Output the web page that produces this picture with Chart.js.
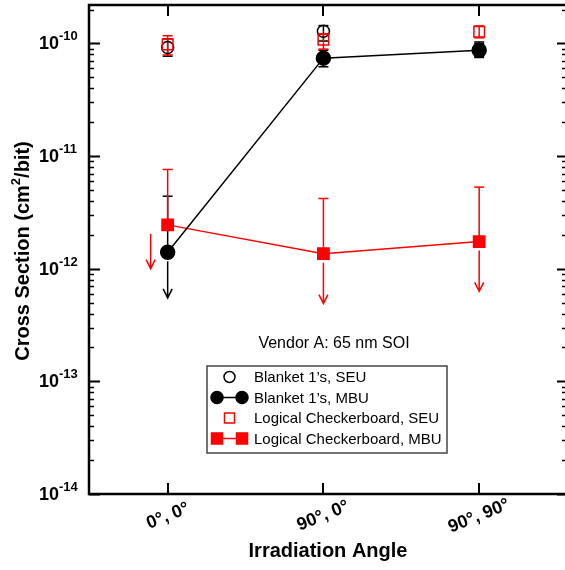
<!DOCTYPE html>
<html>
<head>
<meta charset="utf-8">
<script src="https://cdn.jsdelivr.net/npm/chart.js@4/dist/chart.umd.min.js"></script>
<style>
  html, body { margin: 0; padding: 0; background: #fff; }
</style>
</head>
<body>
<canvas id="xsChart" width="565" height="570"></canvas>
<script>
// categories and tick labels
const angles = ["0\u00b0, 0\u00b0", "90\u00b0, 0\u00b0", "90\u00b0, 90\u00b0"];
const decadeExps = [-10, -11, -12, -13, -14];

// Blanket 1's
const blanketSeu   = [9.2e-11, 1.28e-10, 8.8e-11];
const blanketSeuHi = [1.1e-10, 1.44e-10, 1.0e-10];
const blanketSeuLo = [7.7e-11, 1.05e-10, 7.7e-11];
const blanketMbu   = [1.4e-12, 7.4e-11, 8.7e-11];
const blanketMbuHi = [4.4e-12, 8.7e-11, 1.03e-10];
const blanketMbuLo = [5.5e-13, 6.2e-11, 7.5e-11];
const blanketMbuLimit = [true, false, false];

// Logical checkerboard
const checkerSeu   = [9.8e-11, 1.08e-10, 1.27e-10];
const checkerSeuHi = [1.17e-10, 1.22e-10, 1.43e-10];
const checkerSeuLo = [7.9e-11, 8.9e-11, 1.12e-10];
const checkerMbu   = [2.45e-12, 1.36e-12, 1.74e-12];
const checkerMbuHi = [7.6e-12, 4.2e-12, 5.3e-12];
const checkerMbuLo = [1.0e-12, 4.9e-13, 6.3e-13];
const checkerMbuLimit = [true, true, true];

const RED = "#ff0000";
const FONT = "'Liberation Sans', Arial, sans-serif";

const pts = arr => arr.map((v, i) => ({ x: i, y: v }));

const bars = [
  { mid: blanketSeu, hi: blanketSeuHi, lo: blanketSeuLo, limit: [false, false, false], color: "#000", dx: [0, 0, 0] },
  { mid: blanketMbu, hi: blanketMbuHi, lo: blanketMbuLo, limit: blanketMbuLimit, color: "#000", dx: [0, 0, 0] },
  { mid: checkerSeu, hi: checkerSeuHi, lo: checkerSeuLo, limit: [false, false, false], color: RED, dx: [0, 0, 0] },
  { mid: checkerMbu, hi: checkerMbuHi, lo: checkerMbuLo, limit: checkerMbuLimit, color: RED, dx: [-17, 0, 0] },
];

function cap(ctx, x, y) {
  ctx.beginPath(); ctx.moveTo(x - 5, y); ctx.lineTo(x + 5, y); ctx.stroke();
}

function arrow(ctx, x, y0, y1) {
  ctx.beginPath();
  ctx.moveTo(x, y0); ctx.lineTo(x, y1);
  ctx.moveTo(x - 4.5, y1 - 9); ctx.lineTo(x, y1); ctx.lineTo(x + 4.5, y1 - 9);
  ctx.stroke();
}

const decor = {
  id: "decor",
  beforeDatasetsDraw(chart) {
    const ctx = chart.ctx, xs = chart.scales.x, ys = chart.scales.y;
    ctx.save();
    ctx.lineWidth = 1.5;
    bars.forEach(b => {
      ctx.strokeStyle = b.color;
      b.mid.forEach((v, i) => {
        const px = xs.getPixelForValue(i);
        const pm = ys.getPixelForValue(v);
        const ph = ys.getPixelForValue(b.hi[i]);
        const pl = ys.getPixelForValue(b.lo[i]);
        ctx.beginPath(); ctx.moveTo(px, pm); ctx.lineTo(px, ph); ctx.stroke();
        cap(ctx, px, ph);
        if (b.limit[i]) {
          arrow(ctx, px + b.dx[i], pm + 9, pl);
        } else {
          ctx.beginPath(); ctx.moveTo(px, pm); ctx.lineTo(px, pl); ctx.stroke();
          cap(ctx, px, pl);
        }
      });
    });
    ctx.restore();
  },
  afterDraw(chart) {
    const ctx = chart.ctx, xs = chart.scales.x, ys = chart.scales.y;
    const L = 89, T = 5, R = 565, B = 494;
    ctx.save();
    // frame
    ctx.strokeStyle = "#000";
    ctx.lineWidth = 2.5;
    ctx.beginPath();
    ctx.moveTo(R + 2, T); ctx.lineTo(L, T); ctx.lineTo(L, B); ctx.lineTo(R + 2, B);
    ctx.stroke();

    // y ticks, left and right, inward
    decadeExps.forEach(e => {
      for (let m = 1; m <= 9; m++) {
        const v = m * Math.pow(10, e);
        if (v > ys.max || v < ys.min) continue;
        const py = Math.round(ys.getPixelForValue(v)) + 0.5;
        const major = m === 1;
        ctx.lineWidth = major ? 2 : 1.3;
        ctx.beginPath();
        ctx.moveTo(L, py); ctx.lineTo(L + (major ? 11 : 5), py);
        ctx.moveTo(R, py); ctx.lineTo(R - (major ? 8 : 3), py);
        ctx.stroke();
      }
      // decade labels
      const py = ys.getPixelForValue(Math.pow(10, e));
      ctx.fillStyle = "#000";
      ctx.font = "bold 18px " + FONT;
      ctx.textAlign = "right";
      ctx.textBaseline = "alphabetic";
      ctx.fillText("10", 59, py + 6);
      ctx.font = "bold 13px " + FONT;
      ctx.textAlign = "left";
      ctx.fillText(String(e), 59, py - 3);
    });

    // x ticks (top and bottom) and rotated labels
    angles.forEach((lab, i) => {
      const px = Math.round(xs.getPixelForValue(i));
      ctx.lineWidth = 2;
      ctx.beginPath();
      ctx.moveTo(px, T); ctx.lineTo(px, T + 11);
      ctx.moveTo(px, B); ctx.lineTo(px, B - 11);
      ctx.stroke();
      ctx.save();
      ctx.translate(px, 516);
      ctx.rotate(-22 * Math.PI / 180);
      ctx.font = "bold 18px " + FONT;
      ctx.textAlign = "center";
      ctx.textBaseline = "middle";
      ctx.fillText(lab, 0, 0);
      ctx.restore();
    });

    // axis titles
    ctx.fillStyle = "#000";
    ctx.font = "bold 20px " + FONT;
    ctx.textAlign = "center";
    ctx.textBaseline = "middle";
    ctx.fillText("Irradiation Angle", 328, 551);

    ctx.save();
    ctx.translate(23, 251);
    ctx.rotate(-Math.PI / 2);
    const p1 = "Cross Section (cm", p2 = "2", p3 = "/bit)";
    ctx.font = "bold 20px " + FONT;
    const w1 = ctx.measureText(p1).width, w3 = ctx.measureText(p3).width;
    ctx.font = "bold 13px " + FONT;
    const w2 = ctx.measureText(p2).width;
    const sx = -(w1 + w2 + w3) / 2;
    ctx.textAlign = "left";
    ctx.font = "bold 20px " + FONT;
    ctx.fillText(p1, sx, 0);
    ctx.font = "bold 13px " + FONT;
    ctx.fillText(p2, sx + w1, -7);
    ctx.font = "bold 20px " + FONT;
    ctx.fillText(p3, sx + w1 + w2, 0);
    ctx.restore();

    // annotation
    ctx.font = "16px " + FONT;
    ctx.fillText("Vendor A: 65 nm SOI", 334, 344);

    // legend
    const lx = 207, ly = 366, lw = 240, lh = 87;
    ctx.strokeStyle = "#444";
    ctx.lineWidth = 1.5;
    ctx.strokeRect(lx, ly, lw, lh);
    const rows = [
      { text: "Blanket 1\u2019s, SEU", color: "#000", shape: "circle", filled: false, line: false },
      { text: "Blanket 1\u2019s, MBU", color: "#000", shape: "circle", filled: true, line: true },
      { text: "Logical Checkerboard, SEU", color: RED, shape: "rect", filled: false, line: false },
      { text: "Logical Checkerboard, MBU", color: RED, shape: "rect", filled: true, line: true },
    ];
    rows.forEach((r, k) => {
      const cy = 377 + k * 20.5;
      ctx.strokeStyle = r.color;
      ctx.fillStyle = r.color;
      ctx.lineWidth = 1.5;
      const mark = (cx) => {
        ctx.beginPath();
        if (r.shape === "circle") ctx.arc(cx, cy, 6, 0, Math.PI * 2);
        else ctx.rect(cx - 5.5, cy - 5.5, 11, 11);
        if (r.filled) ctx.fill();
        ctx.stroke();
      };
      if (r.line) {
        ctx.beginPath(); ctx.moveTo(217, cy); ctx.lineTo(242, cy); ctx.stroke();
        mark(217); mark(242);
      } else {
        ctx.beginPath();
        if (r.shape === "circle") ctx.arc(229.5, cy, 5.5, 0, Math.PI * 2);
        else ctx.rect(224.5, cy - 5, 10, 10);
        ctx.stroke();
      }
      ctx.fillStyle = "#000";
      ctx.font = "15px " + FONT;
      ctx.textAlign = "left";
      ctx.textBaseline = "middle";
      ctx.fillText(r.text, 254, cy + 1);
    });
    ctx.restore();
  }
};

const ctx = document.getElementById("xsChart").getContext("2d");
const xsChart = new Chart(ctx, {
  type: "line",
  data: {
    datasets: [
      {
        label: "Logical Checkerboard, SEU",
        data: pts(checkerSeu),
        showLine: false,
        pointStyle: "rect",
        pointRadius: 7.5,
        borderColor: RED,
        backgroundColor: "rgba(0,0,0,0)",
        borderWidth: 1.5,
      },
      {
        label: "Blanket 1's, MBU",
        data: pts(blanketMbu),
        borderColor: "#000",
        backgroundColor: "#000",
        borderWidth: 1.5,
        pointStyle: "circle",
        pointRadius: 7,
        pointBackgroundColor: "#000",
      },
      {
        label: "Logical Checkerboard, MBU",
        data: pts(checkerMbu),
        borderColor: RED,
        backgroundColor: RED,
        borderWidth: 1.5,
        pointStyle: "rect",
        pointRadius: 8,
        pointBackgroundColor: RED,
      },
      {
        label: "Blanket 1's, SEU",
        data: pts(blanketSeu),
        showLine: false,
        pointStyle: "circle",
        pointRadius: 6,
        borderColor: "#000",
        backgroundColor: "rgba(0,0,0,0)",
        borderWidth: 1.5,
      },
    ],
  },
  options: {
    responsive: false,
    animation: false,
    events: [],
    layout: { padding: { left: 89, top: 5, right: 0, bottom: 76 } },
    plugins: { legend: { display: false }, tooltip: { enabled: false } },
    scales: {
      x: { type: "linear", min: -0.505, max: 2.49, display: false },
      y: { type: "logarithmic", min: 1e-14, max: 2e-10, display: false },
    },
  },
  plugins: [decor],
});
</script>
</body>
</html>
